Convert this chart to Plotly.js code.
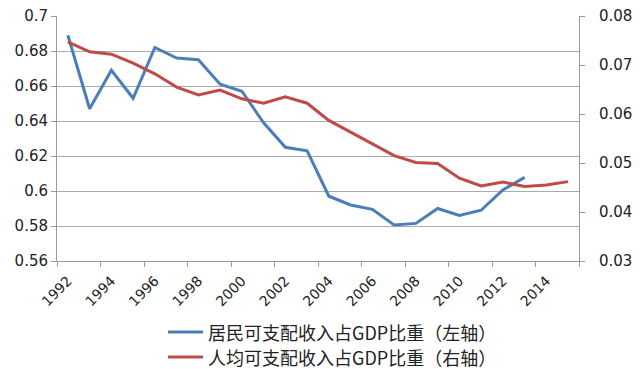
<!DOCTYPE html>
<html>
<head>
<meta charset="utf-8">
<script src="https://cdn.plot.ly/plotly-3.0.1.min.js"></script>
<style>html,body{margin:0;padding:0;background:#fff;}#chart{width:640px;height:369px;}</style>
</head>
<body>
<div id="chart"></div>
<script>
const years = [1992,1993,1994,1995,1996,1997,1998,1999,2000,2001,2002,2003,2004,2005,2006,2007,2008,2009,2010,2011,2012,2013,2014,2015];
const residentShare = [0.689,0.647,0.669,0.653,0.682,0.676,0.675,0.661,0.657,0.639,0.625,0.623,0.597,0.592,0.5895,0.5806,0.5815,0.590,0.586,0.589,0.6006,0.6078];
const perCapitaShare = [0.0747,0.0727,0.0722,0.0704,0.0682,0.0655,0.0639,0.0649,0.0631,0.0622,0.0635,0.0622,0.0587,0.0563,0.0539,0.0515,0.0501,0.0499,0.0469,0.0453,0.0461,0.0452,0.0455,0.0462];
const seriesNames = ['居民可支配收入占GDP比重（左轴）','人均可支配收入占GDP比重（右轴）'];
const seriesColors = ['#4a7ebb','#be4b48'];
const xLabelYears = [1992,1994,1996,1998,2000,2002,2004,2006,2008,2010,2012,2014];
const xTickBounds = [1991.5,1993.5,1995.5,1997.5,1999.5,2001.5,2003.5,2005.5,2007.5,2009.5,2011.5,2013.5,2015.5];
const leftTicks = [0.56,0.58,0.6,0.62,0.64,0.66,0.68,0.7];
const leftTickText = ['0.56','0.58','0.6','0.62','0.64','0.66','0.68','0.7'];
const rightTicks = [0.03,0.04,0.05,0.06,0.07,0.08];
const rightTickText = ['0.03','0.04','0.05','0.06','0.07','0.08'];

const tickFont = {family:'DejaVu Sans, sans-serif', size:15, color:'#222'};
const gridCol = '#ababab';
const axisCol = '#9a9a9a';

const traces = [
  {x: years.slice(0, residentShare.length), y: residentShare, name: seriesNames[0], type:'scatter', mode:'lines',
   line:{color:seriesColors[0], width:3}, xaxis:'x', yaxis:'y'},
  {x: years.slice(0, perCapitaShare.length), y: perCapitaShare, name: seriesNames[1], type:'scatter', mode:'lines',
   line:{color:seriesColors[1], width:3}, xaxis:'x', yaxis:'y2'},
  // invisible trace to activate the boundary-tick axis xaxis2
  {x:[1991.5], y:[0.56], xaxis:'x2', yaxis:'y', mode:'markers', marker:{opacity:0}, showlegend:false, hoverinfo:'skip'}
];

// manual legend (kept below the plot without shrinking it)
const legendRowsY = [-0.2898, -0.3918];
const legendShapes = seriesNames.map((n, i) => ({type:'line', xref:'paper', yref:'paper',
  x0:0.2126, x1:0.2797, y0:legendRowsY[i], y1:legendRowsY[i], line:{color:seriesColors[i], width:3}}));
const legendTexts = seriesNames.map((n, i) => ({xref:'paper', yref:'paper', x:0.2874, y:legendRowsY[i],
  xanchor:'left', yanchor:'middle', showarrow:false, text:n, borderpad:0,
  font:{family:'Noto Sans CJK SC, sans-serif', size:18, color:'#222'}}));

const layout = {
  width:640, height:369,
  margin:{l:57, r:61, t:16, b:108},
  paper_bgcolor:'#fff', plot_bgcolor:'#fff',
  showlegend:false,
  shapes: legendShapes,
  annotations: legendTexts,
  xaxis:{range:[1991.5,2015.5], tickmode:'array', tickvals:xLabelYears, ticktext:xLabelYears.map(String), automargin:false,
    tickangle:-45, ticks:'', ticklabelstandoff:8, showgrid:false, zeroline:false, showline:false, tickfont:{family:'DejaVu Sans, sans-serif', size:14, color:'#222'}},
  xaxis2:{range:[1991.5,2015.5], overlaying:'x', anchor:'y', side:'bottom', tickmode:'array', tickvals:xTickBounds, automargin:false,
    showticklabels:false, ticks:'outside', ticklen:5, tickcolor:axisCol, showline:true, linecolor:axisCol, linewidth:1, showgrid:false, zeroline:false},
  yaxis:{range:[0.56,0.7], tickmode:'array', tickvals:leftTicks, ticktext:leftTickText, ticks:'outside', ticklen:5, tickcolor:axisCol, automargin:false,
    showline:true, linecolor:axisCol, showgrid:true, gridcolor:gridCol, gridwidth:1, zeroline:false, tickfont:tickFont},
  yaxis2:{range:[0.03,0.08], overlaying:'y', side:'right', anchor:'x', tickmode:'array', tickvals:rightTicks, ticktext:rightTickText, automargin:false,
    ticks:'outside', ticklen:5, tickcolor:axisCol, showline:true, linecolor:axisCol, showgrid:false, zeroline:false, tickfont:tickFont, ticklabelstandoff:11}
};

Plotly.newPlot('chart', traces, layout, {staticPlot:true, displayModeBar:false});
</script>
</body>
</html>
